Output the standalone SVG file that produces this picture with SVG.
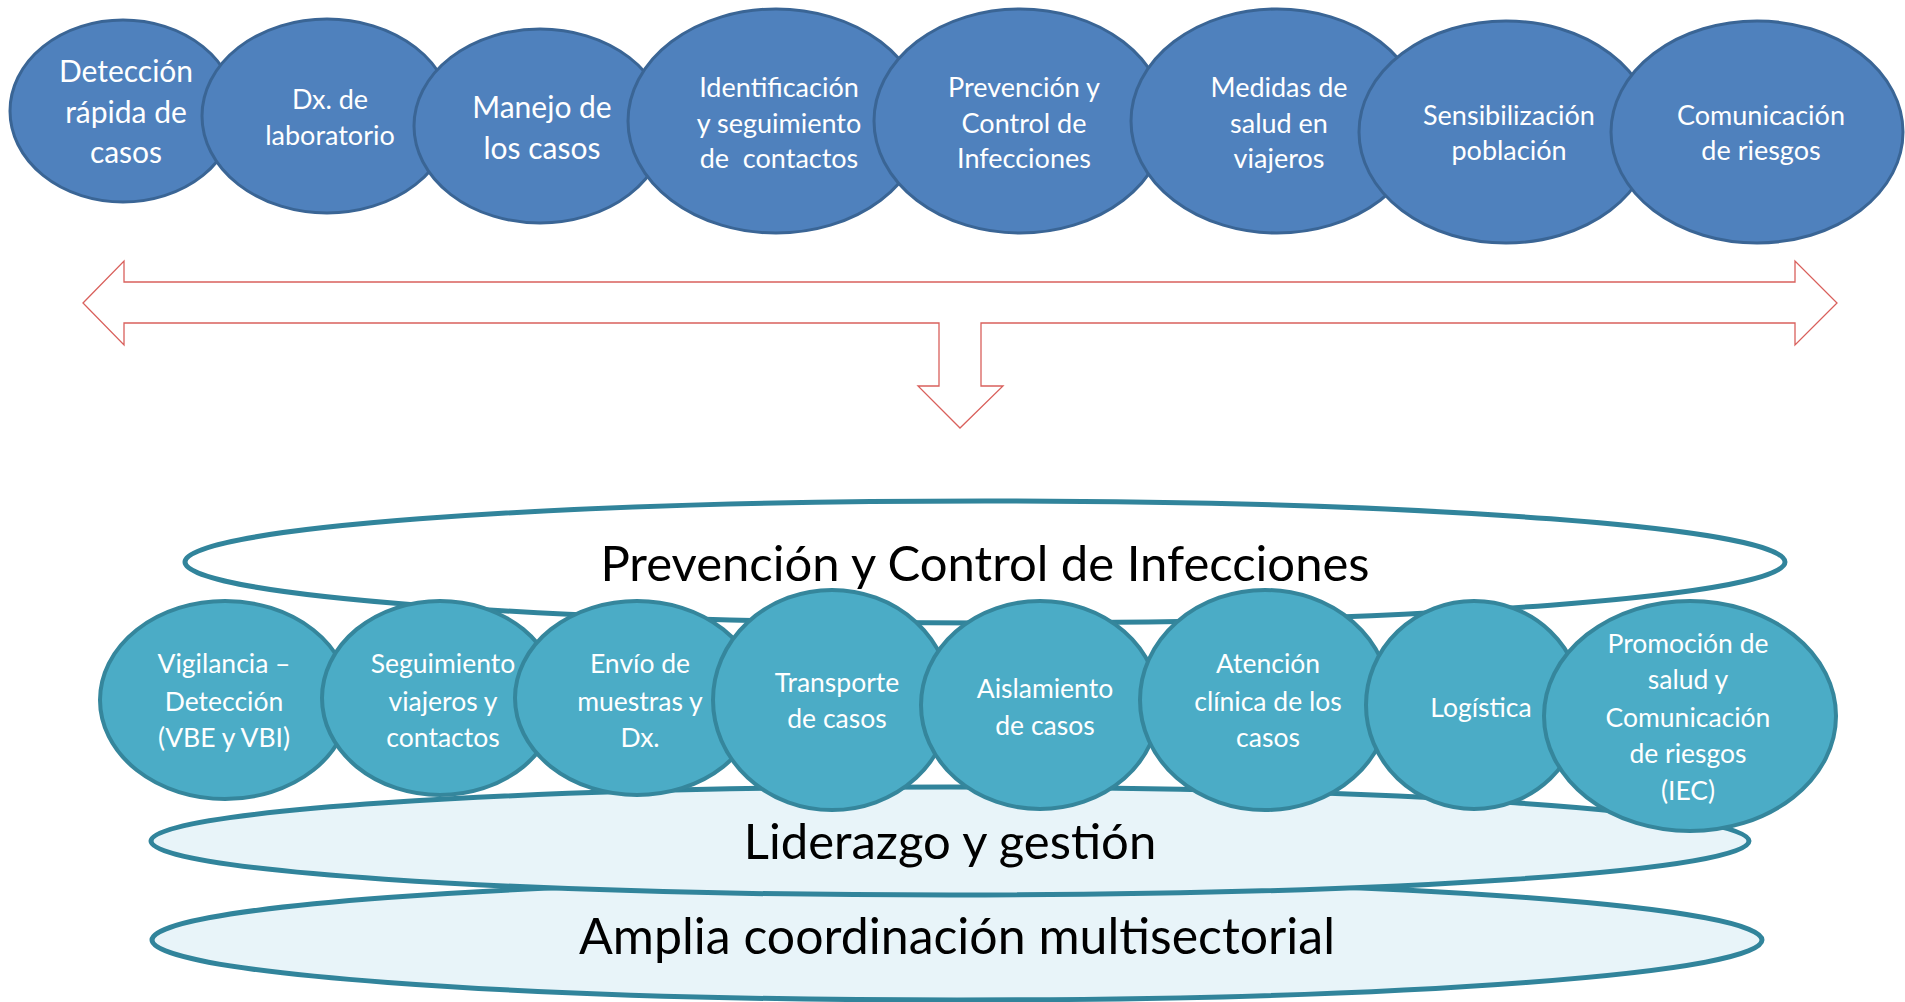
<svg xmlns="http://www.w3.org/2000/svg" width="1905" height="1002" viewBox="0 0 1905 1002">
<style>
.top{fill:#4F81BD;stroke:#3A6595;stroke-width:3}
.bot{fill:#4BACC6;stroke:#35869C;stroke-width:4}
.band{stroke:#31849B;stroke-width:5}
.tt{font-family:Lato,"Liberation Sans",sans-serif;fill:#FFFFFF;text-anchor:middle;font-size:27px}
.tb{font-family:Lato,"Liberation Sans",sans-serif;fill:#FFFFFF;text-anchor:middle;font-size:26.5px}
.big{font-family:Lato,"Liberation Sans",sans-serif;fill:#000000;text-anchor:middle;font-size:49px}
</style>
<rect width="1905" height="1002" fill="#FFFFFF"/>
<g id="connectors">
<path d="M83,303 L124,261 L124,282 L1795,282 L1795,261 L1837,303 L1795,345 L1795,323 L981,323 L981,386 L1003,386 L960,428 L918,386 L939,386 L939,323 L124,323 L124,345 Z" fill="#FFFFFF" stroke="#D9605C" stroke-width="1.3" stroke-linejoin="miter"/>
</g>
<g id="top-row">
<g id="t1"><ellipse class="top" cx="123" cy="111" rx="113" ry="91"/><text class="tt" style="font-size:30px"><tspan x="126" y="82">Detección</tspan><tspan x="126" y="123">rápida de</tspan><tspan x="126" y="163">casos</tspan></text></g>
<g id="t2"><ellipse class="top" cx="327" cy="116" rx="125" ry="97"/><text class="tt"><tspan x="330" y="109">Dx. de</tspan><tspan x="330" y="145">laboratorio</tspan></text></g>
<g id="t3"><ellipse class="top" cx="540" cy="126" rx="126" ry="97"/><text class="tt" style="font-size:30px"><tspan x="542" y="118">Manejo de</tspan><tspan x="542" y="159">los casos</tspan></text></g>
<g id="t4"><ellipse class="top" cx="776" cy="121" rx="148" ry="112"/><text class="tt"><tspan x="779" y="97">Identificación</tspan><tspan x="779" y="133">y seguimiento</tspan><tspan x="779" y="168">de&#160; contactos</tspan></text></g>
<g id="t5"><ellipse class="top" cx="1020" cy="121" rx="146" ry="112"/><text class="tt"><tspan x="1024" y="97">Prevención y</tspan><tspan x="1024" y="133">Control de</tspan><tspan x="1024" y="168">Infecciones</tspan></text></g>
<g id="t6"><ellipse class="top" cx="1277" cy="121" rx="146" ry="112"/><text class="tt"><tspan x="1279" y="97">Medidas de</tspan><tspan x="1279" y="133">salud en</tspan><tspan x="1279" y="168">viajeros</tspan></text></g>
<g id="t7"><ellipse class="top" cx="1506" cy="132" rx="147" ry="111"/><text class="tt"><tspan x="1509" y="125">Sensibilización</tspan><tspan x="1509" y="160">población</tspan></text></g>
<g id="t8"><ellipse class="top" cx="1757" cy="132" rx="146" ry="111"/><text class="tt"><tspan x="1761" y="125">Comunicación</tspan><tspan x="1761" y="160">de riesgos</tspan></text></g>
</g>
<g id="base-layers">
<g id="amplia"><ellipse class="band" cx="957" cy="940" rx="805" ry="60" fill="#E8F4F9"/><text class="big" x="957" y="954" style="font-size:50px">Amplia coordinación multisectorial</text></g>
<g id="liderazgo"><ellipse class="band" cx="950" cy="841" rx="799" ry="54" fill="#E8F4F9"/><text class="big" x="950" y="859">Liderazgo y gestión</text></g>
<g id="pci"><ellipse class="band" cx="985" cy="562" rx="800" ry="61" fill="#FFFFFF"/><text class="big" x="985" y="581">Prevención y Control de Infecciones</text></g>
</g>
<g id="bottom-row">
<g id="b1"><ellipse class="bot" cx="225" cy="700" rx="125" ry="99"/><text class="tb"><tspan x="224" y="673">Vigilancia –</tspan><tspan x="224" y="711">Detección</tspan><tspan x="224" y="747">(VBE y VBI)</tspan></text></g>
<g id="b2"><ellipse class="bot" cx="440" cy="698" rx="118" ry="97"/><text class="tb"><tspan x="443" y="673">Seguimiento</tspan><tspan x="443" y="711">viajeros y</tspan><tspan x="443" y="747">contactos</tspan></text></g>
<g id="b3"><ellipse class="bot" cx="637" cy="698" rx="122" ry="97"/><text class="tb"><tspan x="640" y="673">Envío de</tspan><tspan x="640" y="711">muestras y</tspan><tspan x="640" y="747">Dx.</tspan></text></g>
<g id="b4"><ellipse class="bot" cx="832" cy="700" rx="119" ry="110"/><text class="tb"><tspan x="837" y="692">Transporte</tspan><tspan x="837" y="728">de casos</tspan></text></g>
<g id="b5"><ellipse class="bot" cx="1040" cy="705" rx="119" ry="104"/><text class="tb"><tspan x="1045" y="698">Aislamiento</tspan><tspan x="1045" y="735">de casos</tspan></text></g>
<g id="b6"><ellipse class="bot" cx="1265" cy="700" rx="125" ry="110"/><text class="tb"><tspan x="1268" y="673">Atención</tspan><tspan x="1268" y="711">clínica de los</tspan><tspan x="1268" y="747">casos</tspan></text></g>
<g id="b7"><ellipse class="bot" cx="1474" cy="705" rx="108" ry="104"/><text class="tb"><tspan x="1481" y="717">Logística</tspan></text></g>
<g id="b8"><ellipse class="bot" cx="1690" cy="716" rx="146" ry="115"/><text class="tb"><tspan x="1688" y="653">Promoción de</tspan><tspan x="1688" y="689">salud y</tspan><tspan x="1688" y="727">Comunicación</tspan><tspan x="1688" y="763">de riesgos</tspan><tspan x="1688" y="800">(IEC)</tspan></text></g>
</g>
</svg>
